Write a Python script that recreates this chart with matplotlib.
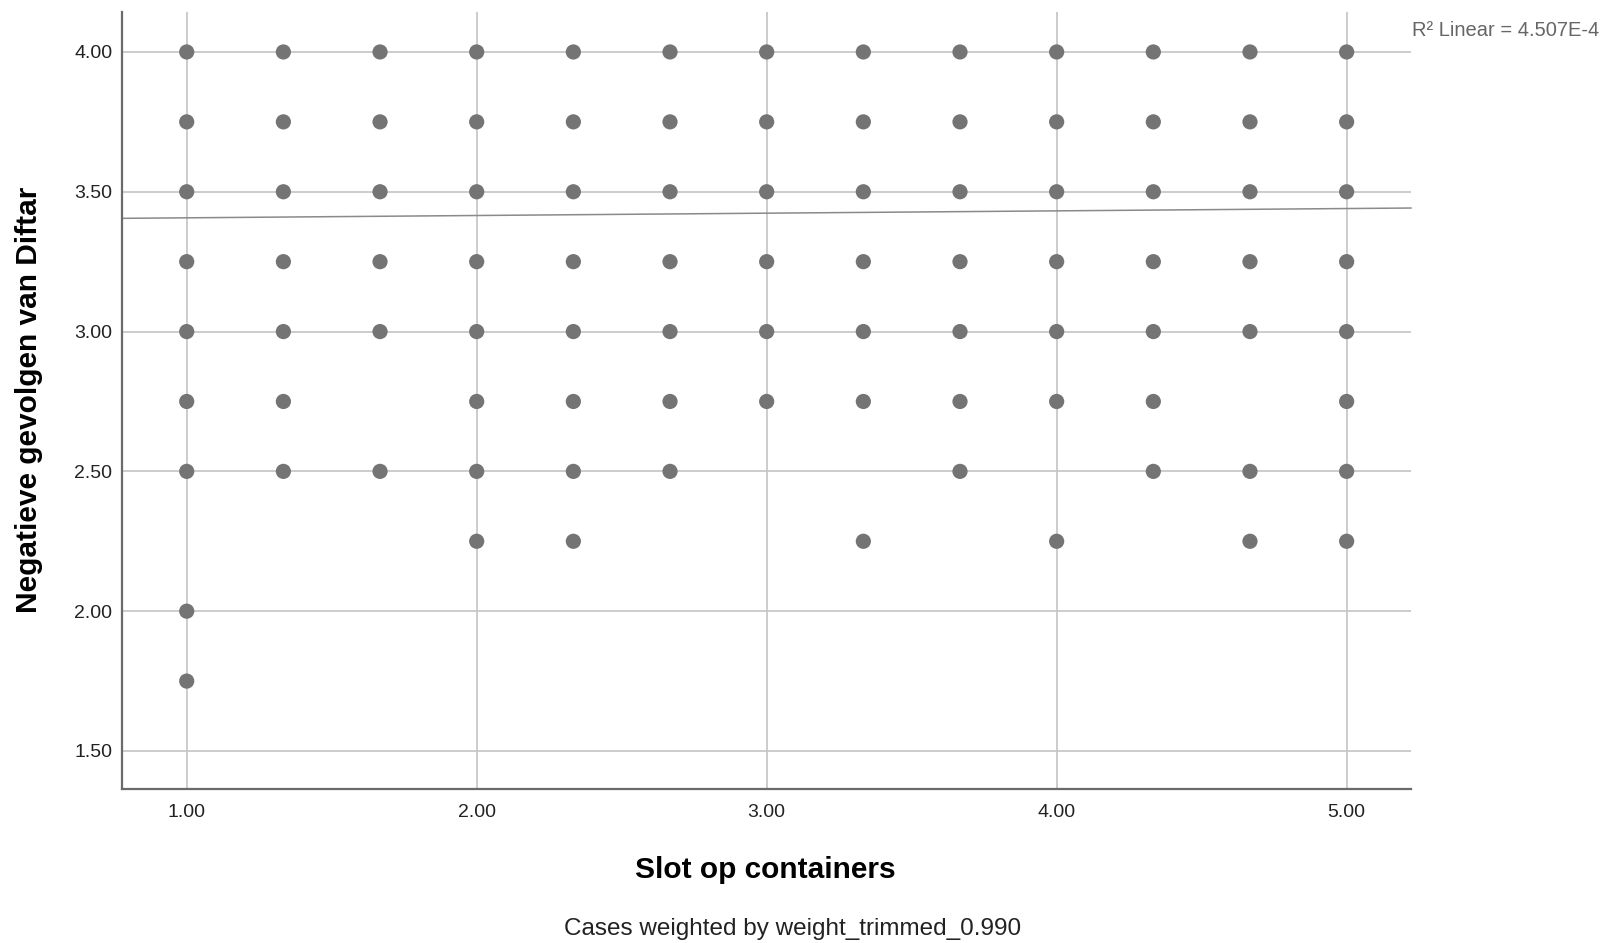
import numpy as np
import matplotlib.pyplot as plt

plt.rcParams['font.family'] = ['Liberation Sans', 'DejaVu Sans']

# x positions of the answer categories (thirds between 1 and 5)
x_levels = [1.0, 4/3, 5/3, 2.0, 7/3, 8/3, 3.0, 10/3, 11/3, 4.0, 13/3, 14/3, 5.0]

# y values present for each x level
y_at_x = {
    1.0:  [4.00, 3.75, 3.50, 3.25, 3.00, 2.75, 2.50, 2.00, 1.75],
    4/3:  [4.00, 3.75, 3.50, 3.25, 3.00, 2.75, 2.50],
    5/3:  [4.00, 3.75, 3.50, 3.25, 3.00, 2.50],
    2.0:  [4.00, 3.75, 3.50, 3.25, 3.00, 2.75, 2.50, 2.25],
    7/3:  [4.00, 3.75, 3.50, 3.25, 3.00, 2.75, 2.50, 2.25],
    8/3:  [4.00, 3.75, 3.50, 3.25, 3.00, 2.75, 2.50],
    3.0:  [4.00, 3.75, 3.50, 3.25, 3.00, 2.75],
    10/3: [4.00, 3.75, 3.50, 3.25, 3.00, 2.75, 2.25],
    11/3: [4.00, 3.75, 3.50, 3.25, 3.00, 2.75, 2.50],
    4.0:  [4.00, 3.75, 3.50, 3.25, 3.00, 2.75, 2.25],
    13/3: [4.00, 3.75, 3.50, 3.25, 3.00, 2.75, 2.50],
    14/3: [4.00, 3.75, 3.50, 3.25, 3.00, 2.50, 2.25],
    5.0:  [4.00, 3.75, 3.50, 3.25, 3.00, 2.75, 2.50, 2.25],
}

# fit line
fit_intercept = 3.3985
fit_slope = 0.0083
r2_text = "R² Linear = 4.507E-4"

x_ticks = [1.0, 2.0, 3.0, 4.0, 5.0]
y_ticks = [1.5, 2.0, 2.5, 3.0, 3.5, 4.0]

xs = []
ys = []
for x in x_levels:
    for y in y_at_x[x]:
        xs.append(x)
        ys.append(y)

fig = plt.figure(figsize=(16.08, 9.43), dpi=100)
ax = fig.add_axes([0.0759, 0.1633, 0.8016, 0.824])

xlim = (0.777, 5.222)
ax.set_xlim(xlim)
ax.set_ylim(1.364, 4.143)

ax.set_xticks(x_ticks)
ax.set_yticks(y_ticks)
ax.set_xticklabels([f"{v:.2f}" for v in x_ticks])
ax.set_yticklabels([f"{v:.2f}" for v in y_ticks])
ax.tick_params(length=0, labelsize=14, colors="#222222")
ax.tick_params(axis="x", pad=11)
ax.tick_params(axis="y", pad=7)

ax.grid(True, color="#c4c4c4", linewidth=1.2)
ax.set_axisbelow(True)

for side in ["top", "right"]:
    ax.spines[side].set_visible(False)
for side in ["left", "bottom"]:
    ax.spines[side].set_color("#6a6a6a")
    ax.spines[side].set_linewidth(1.6)

ax.scatter(xs, ys, s=120, color="#747474", edgecolors="none", zorder=3)

line_x = np.array(xlim)
ax.plot(line_x, fit_intercept + fit_slope * line_x, color="#8a8a8a",
        linewidth=1.1, zorder=2, clip_on=False)

fig.text(1412 / 1608, 1 - 31 / 943, r2_text, fontsize=14.5, color="#666666",
         ha="left", va="center")

fig.text(765 / 1608, 1 - 870 / 943, "Slot op containers", fontsize=21.5,
         fontweight="bold", ha="center", va="center")
fig.text(29 / 1608, 1 - 400 / 943, "Negatieve gevolgen van Diftar", fontsize=21.5,
         fontweight="bold", ha="center", va="center", rotation=90)
fig.text(793 / 1608, 1 - 929 / 943, "Cases weighted by weight_trimmed_0.990",
         fontsize=17.5, color="#222222", ha="center", va="center")

fig.savefig("out.png", dpi=100)
